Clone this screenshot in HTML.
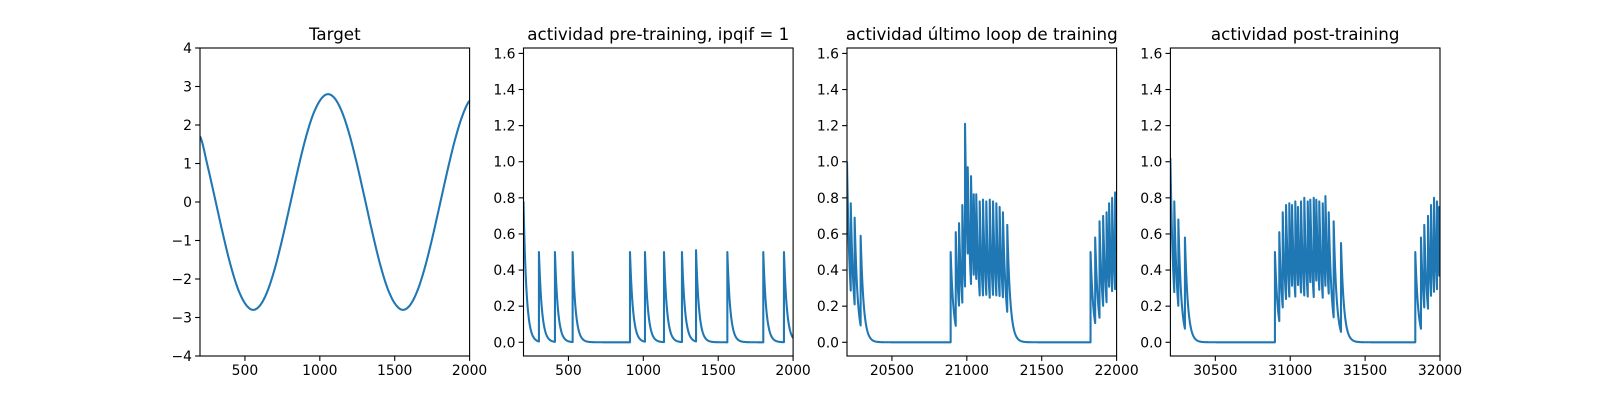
<!DOCTYPE html>
<html><head><meta charset="utf-8"><style>
html,body{margin:0;padding:0;background:#fff;}
svg{display:block;font-family:"DejaVu Sans","Liberation Sans",sans-serif;}
</style></head><body>
<svg id="fig" width="1600" height="400" viewBox="0 0 1600 400" xmlns="http://www.w3.org/2000/svg">
<rect width="1600" height="400" fill="#fff"/>
</svg>
<script>
// Panel 1: target sine sampled
const targetX = [200,250,300,350,400,450,500,550,600,650,700,750,800,850,900,950,1000,1050,1100,1150,1200,1250,1300,1350,1400,1450,1500,1550,1600,1650,1700,1750,1800,1850,1900,1950,2000];
const targetY = [1.71,0.95,0.09,-0.78,-1.58,-2.22,-2.63,-2.80,-2.69,-2.32,-1.72,-0.95,-0.09,0.78,1.58,2.22,2.63,2.80,2.69,2.32,1.72,0.95,0.09,-0.78,-1.58,-2.22,-2.63,-2.80,-2.69,-2.32,-1.72,-0.95,-0.09,0.78,1.58,2.22,2.63];
// Panel 2: pre-training spikes
const preStart = 0.78;
const preSpikeT = [303,410,528,911,1011,1138,1258,1352,1561,1801,1939];
const preSpikeV = [0.5,0.5,0.5,0.5,0.5,0.5,0.5,0.51,0.5,0.5,0.5];
// Panel 3: last training loop
const lastStart = 1.0;
const lastSpikeT = [20225,20251,20291,20892,20926,20948,20970,20988,21006,21028,21046,21063,21086,21108,21130,21153,21175,21197,21219,21241,21270,21826,21857,21886,21910,21933,21950,21970,21990];
const lastSpikeV = [0.77,0.69,0.59,0.50,0.61,0.66,0.76,1.21,0.97,0.92,0.82,0.82,0.78,0.79,0.78,0.79,0.78,0.77,0.75,0.72,0.65,0.50,0.58,0.67,0.70,0.72,0.77,0.80,0.83];
// Panel 4: post-training
const postStart = 1.02;
const postSpikeT = [30226,30253,30297,30898,30927,30950,30972,30994,31012,31034,31052,31072,31094,31117,31134,31157,31174,31194,31217,31235,31257,31290,31339,31835,31873,31895,31920,31940,31960,31980,31995];
const postSpikeV = [0.78,0.68,0.58,0.50,0.61,0.72,0.76,0.77,0.76,0.78,0.75,0.78,0.80,0.78,0.79,0.80,0.79,0.78,0.77,0.81,0.72,0.67,0.55,0.50,0.58,0.65,0.70,0.76,0.80,0.78,0.75];
const tau = 20;
const titles = ["Target","actividad pre-training, ipqif = 1","actividad último loop de training","actividad post-training"];
const xTicks1 = [500,1000,1500,2000];
const xTicks3 = [20500,21000,21500,22000];
const xTicks4 = [30500,31000,31500,32000];
const yTicks1 = [-4,-3,-2,-1,0,1,2,3,4];
const yTicks2 = [0.0,0.2,0.4,0.6,0.8,1.0,1.2,1.4,1.6];

const svg = document.getElementById('fig');
const NS = 'http://www.w3.org/2000/svg';
const TOP = 48, BOT = 356;
const lefts = [200, 523.5, 847, 1170.4], W = 269.6;
function mk(tag, attrs, parent){ const e=document.createElementNS(NS,tag); for(const k in attrs) e.setAttribute(k,attrs[k]); parent.appendChild(e); return e; }

function spikeSeries(x0, x1, start, ts, vs){
  const pts=[]; let lastT=x0, lastV=start, idx=0;
  for(let t=x0;t<=x1;t+=2){
    while(idx<ts.length && ts[idx]<=t){
      const vb = lastV*Math.exp(-(ts[idx]-lastT)/tau);
      pts.push([ts[idx],vb]); pts.push([ts[idx],vs[idx]]);
      lastT=ts[idx]; lastV=vs[idx]; idx++;
    }
    pts.push([t, lastV*Math.exp(-(t-lastT)/tau)]);
  }
  return pts;
}

function panel(i, xmin, xmax, ymin, ymax, xt, yt, yfmt, pts, name){
  const L=lefts[i], R=L+W;
  const g = mk('g',{},svg);
  
  
  const sx = v => L + (v-xmin)/(xmax-xmin)*W;
  const sy = v => BOT - (v-ymin)/(ymax-ymin)*(BOT-TOP);
  const cid='clip'+i;
  const cp=mk('clipPath',{id:cid},g); mk('rect',{x:L,y:TOP,width:W,height:BOT-TOP},cp);
  let d='';
  pts.forEach((p,k)=>{ d += (k?'L':'M')+sx(p[0]).toFixed(2)+' '+sy(p[1]).toFixed(2); });
  const line = mk('path',{d:d,fill:'none',stroke:'#1f77b4','stroke-width':2.08,'stroke-linejoin':'round','clip-path':'url(#'+cid+')'},g);
  
  
  const fr = mk('rect',{x:L,y:TOP,width:W,height:BOT-TOP,fill:'none',stroke:'#000','stroke-width':1.1},g);
  
  
  xt.forEach(v=>{
    const x=sx(v);
    mk('line',{x1:x,y1:BOT,x2:x,y2:BOT+4.9,stroke:'#000','stroke-width':1.1},g);
    const t=mk('text',{x:x,y:BOT+19,'font-size':13.9,'text-anchor':'middle',fill:'#000'},g);
    t.textContent=v;
    
    
  });
  yt.forEach(v=>{
    const y=sy(v);
    mk('line',{x1:L,y1:y,x2:L-4.9,y2:y,stroke:'#000','stroke-width':1.1},g);
    const t=mk('text',{x:L-8,y:y+5,'font-size':13.9,'text-anchor':'end',fill:'#000'},g);
    t.textContent=yfmt(v);
    
    
  });
  const tt=mk('text',{x:L+W/2,y:TOP-8,'font-size':16.7,'text-anchor':'middle',fill:'#000'},g);
  tt.textContent=titles[i];
  
  
}

// Catmull-Rom densify for target
function smooth(xs, ys){
  const out=[];
  for(let i=0;i<xs.length-1;i++){
    const p0=ys[Math.max(0,i-1)], p1=ys[i], p2=ys[i+1], p3=ys[Math.min(ys.length-1,i+2)];
    for(let s=0;s<10;s++){
      const t=s/10;
      const y=0.5*((2*p1)+(-p0+p2)*t+(2*p0-5*p1+4*p2-p3)*t*t+(-p0+3*p1-3*p2+p3)*t*t*t);
      out.push([xs[i]+(xs[i+1]-xs[i])*t, y]);
    }
  }
  out.push([xs[xs.length-1], ys[ys.length-1]]);
  return out;
}
const fmtInt = v => (v<0?'\u2212':'')+Math.abs(v);
const fmt1 = v => v.toFixed(1);
const YMIN=-0.076, YMAX=1.63;
panel(0,200,2000,-4,4,xTicks1,yTicks1,fmtInt,smooth(targetX,targetY),'target-panel');
panel(1,200,2000,YMIN,YMAX,xTicks1,yTicks2,fmt1,spikeSeries(200,2000,preStart,preSpikeT,preSpikeV),'pre-training-panel');
panel(2,20200,22000,YMIN,YMAX,xTicks3,yTicks2,fmt1,spikeSeries(20200,22000,lastStart,lastSpikeT,lastSpikeV),'last-loop-panel');
panel(3,30200,32000,YMIN,YMAX,xTicks4,yTicks2,fmt1,spikeSeries(30200,32000,postStart,postSpikeT,postSpikeV),'post-training-panel');
</script>
</body></html>
